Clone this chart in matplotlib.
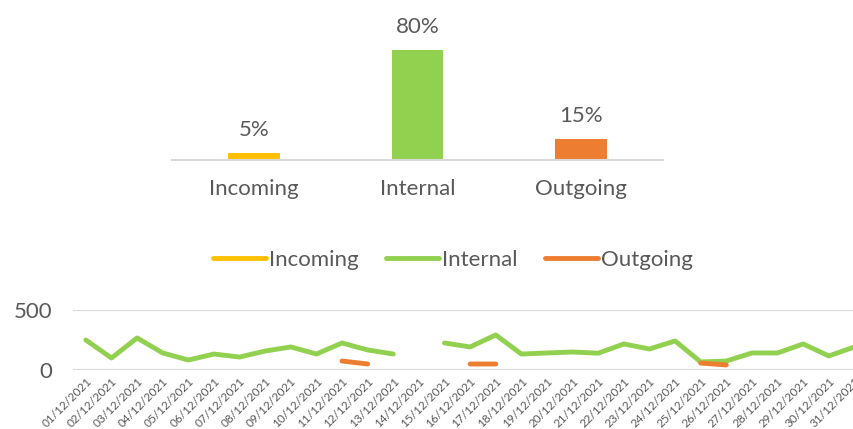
import numpy as np
import pandas as pd
import matplotlib
matplotlib.use("Agg")
import matplotlib.pyplot as plt

plt.rcParams['font.family'] = ['Lato', 'DejaVu Sans']

# --- share of calls by direction ---
categories = ["Incoming", "Internal", "Outgoing"]
shares = [0.05, 0.80, 0.15]
colors = ["#FFC000", "#92D050", "#ED7D31"]

# --- daily volume, December 2021 (nan = no data) ---
days = pd.date_range("2021-12-01", "2021-12-31", freq="D")
day_labels = [d.strftime("%d/%m/%Y") for d in days]
nan = np.nan
incoming = [nan] * 31
internal = [250, 100, 267, 142, 83, 133, 108, 158, 192, 133,
            225, 167, 133, nan, 225, 192, 292, 133, 142, 150,
            140, 217, 175, 242, 67, 75, 142, 142, 217, 117, 192]
outgoing = [nan, nan, nan, nan, nan, nan, nan, nan, nan, nan,
            75, 50, nan, nan, nan, 50, 50, nan, nan, nan,
            nan, nan, nan, nan, 58, 42, nan, nan, nan, nan, nan]

TXT = "#595959"

fig = plt.figure(figsize=(8.54, 4.29), dpi=100)

# --- top: bar chart of shares ---
ax1 = fig.add_axes([0.2014, 0.627, 0.575, 0.3205])
x = np.arange(len(categories))
bars = ax1.bar(x, shares, width=0.316, color=colors)
for b, v in zip(bars, shares):
    ax1.text(b.get_x() + b.get_width() / 2, v + 0.095, f"{v:.0%}",
             ha="center", va="bottom", fontsize=16, color=TXT)
ax1.set_xlim(-0.5, 2.5)
ax1.set_ylim(0, 1.0)
ax1.set_xticks(x)
ax1.set_xticklabels(categories, fontsize=16, color=TXT)
ax1.tick_params(axis="x", length=0, pad=14)
ax1.set_yticks([])
for s in ["top", "left", "right"]:
    ax1.spines[s].set_visible(False)
ax1.spines["bottom"].set_color("#D9D9D9")
ax1.spines["bottom"].set_linewidth(1.5)

# --- bottom: daily lines ---
ax2 = fig.add_axes([0.0855, 0.1375, 0.93, 0.14])
pos = np.arange(len(days))
series = [("Incoming", incoming), ("Internal", internal), ("Outgoing", outgoing)]
for (name, vals), c in zip(series, colors):
    ax2.plot(pos, vals, color=c, lw=3.5, solid_capstyle="round",
             solid_joinstyle="round", label=name)
ax2.set_xlim(-0.5, len(days) - 0.5)
ax2.set_ylim(0, 500)
ax2.set_yticks([0, 500])
ax2.set_yticklabels(["0", "500"], fontsize=16, color=TXT)
ax2.set_xticks(pos)
ax2.set_xticklabels(day_labels, rotation=45, ha="right", rotation_mode="anchor",
                    fontsize=8.5, color=TXT)
ax2.tick_params(axis="both", length=0)
ax2.tick_params(axis="y", pad=15)
ax2.tick_params(axis="x", pad=4)
ax2.grid(axis="y", color="#D9D9D9", lw=1.5)
ax2.set_axisbelow(True)
for s in ax2.spines.values():
    s.set_visible(False)

fig.legend(loc="center", bbox_to_anchor=(453 / 854, 1 - 260 / 429), ncol=3,
           frameon=False, fontsize=16, handlelength=2.4, handletextpad=0.15,
           columnspacing=1.2, labelcolor=TXT)

fig.savefig("out.png", dpi=100)
